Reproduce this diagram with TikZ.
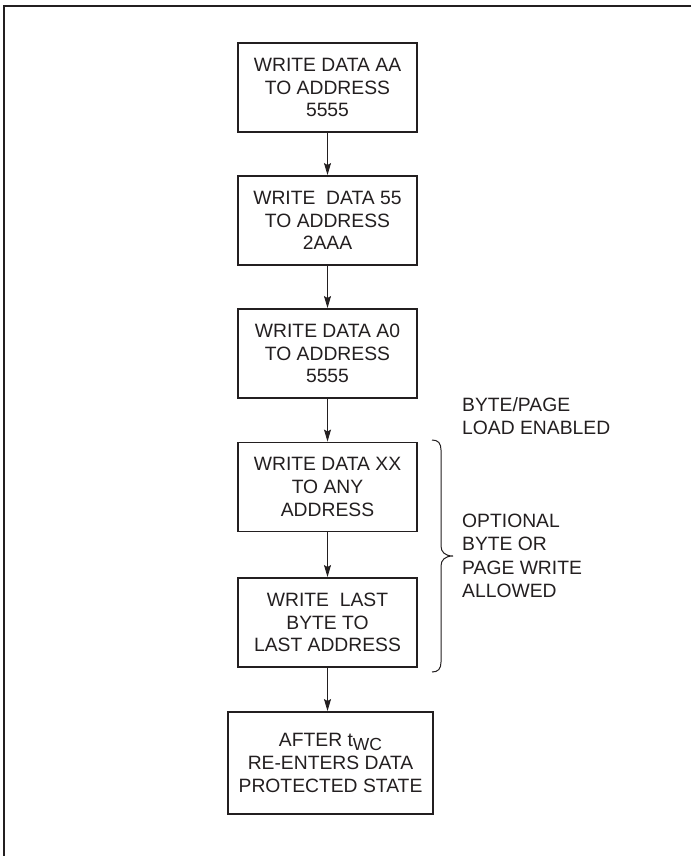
\documentclass[tikz,border=0pt]{standalone}
\usepackage{fontspec}
\setmainfont{Liberation Sans}
\usetikzlibrary{arrows.meta}
\definecolor{ink}{HTML}{231F20}
\begin{document}
\begin{tikzpicture}[x=1pt,y=-1pt,
  stepbox/.style={draw=ink,line width=1.9pt,text=ink,align=center,
    minimum width=179pt,minimum height=89pt,inner sep=0pt,
    font=\fontsize{19.3}{22.8}\selectfont},
  flow/.style={draw=ink,line width=0.9pt,-{Stealth[length=12pt,width=7pt,inset=2pt]}},
  note/.style={text=ink,align=left,anchor=north west,inner sep=0pt,
    font=\fontsize{19.3}{23.3}\selectfont}]
\useasboundingbox (0,0) rectangle (691,856);
\fill[white] (0,0) rectangle (691,856);
% partial frame
\coordinate (fTR) at (691,6);
\coordinate (fTL) at (4,6);
\coordinate (fBL) at (4,856);
\draw[ink,line width=1.2pt] (fTR) -- (fTL) -- (fBL);
% boxes
\node[stepbox] (b1) at (327.5,87.5) {WRITE DATA AA\\TO ADDRESS\\5555};
\node[stepbox] (b2) at (327.5,220.5) {WRITE\ \ DATA 55\\TO ADDRESS\\2AAA};
\node[stepbox] (b3) at (327.5,353.5) {WRITE DATA A0\\TO ADDRESS\\5555};
\node[stepbox] (b4) at (327.5,487) {WRITE DATA XX\\TO ANY\\ADDRESS};
\node[stepbox] (b5) at (327.5,622.5) {WRITE\ \ LAST\\BYTE TO\\LAST ADDRESS};
\node[stepbox,minimum width=205pt,minimum height=102pt] (b6) at (330.5,763)
  {AFTER t\raisebox{-4pt}{\fontsize{17.5}{20}\selectfont WC}\\RE-ENTERS DATA\\PROTECTED STATE};
% connectors
\draw[flow] (b1.south -| 327.5,0) -- (b2.north -| 327.5,0);
\draw[flow] (b2.south -| 327.5,0) -- (b3.north -| 327.5,0);
\draw[flow] (b3.south -| 327.5,0) -- (b4.north -| 327.5,0);
\draw[flow] (b4.south -| 327.5,0) -- (b5.north -| 327.5,0);
\draw[flow] (b5.south -| 327.5,0) -- (b6.north -| 327.5,0);
% brace
\draw[ink,line width=1pt] (432,440) .. controls (438,440) and (441,443) .. (441,450)
  -- (441,546) .. controls (441,552) and (445,556) .. (453,556)
  .. controls (445,556) and (441,560) .. (441,566)
  -- (441,662) .. controls (441,669) and (438,672) .. (432,672);
% notes
\node[note] (n1) at (462,397) {BYTE/PAGE\\LOAD ENABLED};
\node[note] (n2) at (462,514) {OPTIONAL\\BYTE OR\\PAGE WRITE\\ALLOWED};
\end{tikzpicture}
\end{document}
